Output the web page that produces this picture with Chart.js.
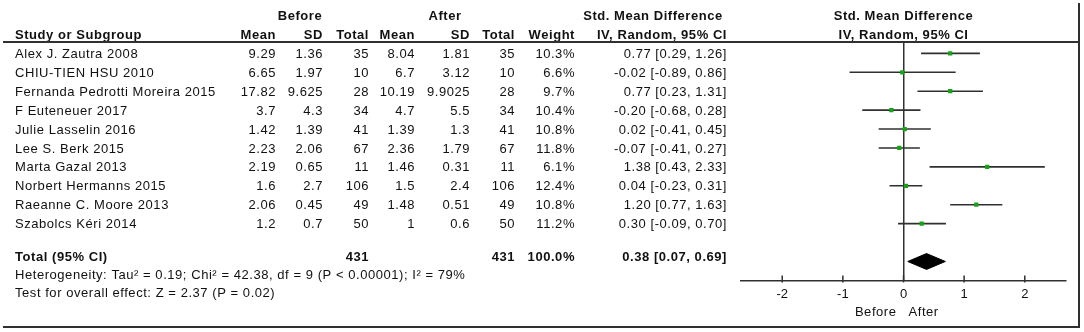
<!DOCTYPE html>
<html>
<head>
<meta charset="utf-8">
<script src="https://cdn.jsdelivr.net/npm/chart.js@4.4.0/dist/chart.umd.min.js"></script>
<style>
  html, body { margin: 0; padding: 0; background: #fff; }
</style>
</head>
<body>
<canvas id="forest" width="1084" height="332"></canvas>
<script>
// study rows
const studies = [
  "Alex J. Zautra 2008",
  "CHIU-TIEN HSU 2010",
  "Fernanda Pedrotti Moreira 2015",
  "F Euteneuer 2017",
  "Julie Lasselin 2016",
  "Lee S. Berk 2015",
  "Marta Gazal 2013",
  "Norbert Hermanns 2015",
  "Raeanne C. Moore 2013",
  "Szabolcs Kéri 2014"
];
const beforeMean = [9.29, 6.65, 17.82, 3.7, 1.42, 2.23, 2.19, 1.6, 2.06, 1.2];
const beforeSD = [1.36, 1.97, 9.625, 4.3, 1.39, 2.06, 0.65, 2.7, 0.45, 0.7];
const beforeN = [35, 10, 28, 34, 41, 67, 11, 106, 49, 50];
const afterMean = [8.04, 6.7, 10.19, 4.7, 1.39, 2.36, 1.46, 1.5, 1.48, 1];
const afterSD = [1.81, 3.12, 9.9025, 5.5, 1.3, 1.79, 0.31, 2.4, 0.51, 0.6];
const afterN = [35, 10, 28, 34, 41, 67, 11, 106, 49, 50];
const weights = [10.3, 6.6, 9.7, 10.4, 10.8, 11.8, 6.1, 12.4, 10.8, 11.2];
const smd = [0.77, -0.02, 0.77, -0.20, 0.02, -0.07, 1.38, 0.04, 1.20, 0.30];
const ciLo = [0.29, -0.89, 0.23, -0.68, -0.41, -0.41, 0.43, -0.23, 0.77, -0.09];
const ciHi = [1.26, 0.86, 1.31, 0.28, 0.45, 0.27, 2.33, 0.31, 1.63, 0.70];

// pooled result
const totalBefore = 431;
const totalAfter = 431;
const totalWeight = 100.0;
const totalEst = 0.38;
const totalLo = 0.07;
const totalHi = 0.69;
const heterogeneityText = "Heterogeneity: Tau\u00b2 = 0.19; Chi\u00b2 = 42.38, df = 9 (P < 0.00001); I\u00b2 = 79%";
const overallText = "Test for overall effect: Z = 2.37 (P = 0.02)";

const xTicks = [-2, -1, 0, 1, 2];
const favoursLeft = "Before";
const favoursRight = "After";

const totalRow = studies.length + 1; // blank row, then Total
const ink = "#111";
const lineCol = "#303030";
const green = "#14a514";

// right edge of each table column
const cols = { bMean: 276, bSD: 323, bN: 369, aMean: 415, aSD: 470, aN: 515, weight: 575, ci: 727 };

function fmtCI(e, l, h) {
  return e.toFixed(2) + " [" + l.toFixed(2) + ", " + h.toFixed(2) + "]";
}

const datasets = [];
// effect markers
datasets.push({
  type: "scatter",
  data: smd.map((v, i) => ({ x: v, y: i })),
  pointStyle: "rect",
  pointRadius: 3,
  pointHoverRadius: 3,
  backgroundColor: green,
  borderWidth: 0,
  order: 0
});
// confidence interval lines
for (let i = 0; i < studies.length; i++) {
  datasets.push({
    type: "scatter",
    data: [{ x: ciLo[i], y: i }, { x: ciHi[i], y: i }],
    showLine: true,
    borderColor: lineCol,
    borderWidth: 1.6,
    pointRadius: 0,
    order: 2
  });
}
// pooled diamond
const dh = 0.42;
datasets.push({
  type: "scatter",
  data: [
    { x: totalLo, y: totalRow },
    { x: totalEst, y: totalRow - dh },
    { x: totalHi, y: totalRow },
    { x: totalEst, y: totalRow + dh },
    { x: totalLo, y: totalRow }
  ],
  showLine: true,
  fill: "shape",
  backgroundColor: "#000",
  borderColor: "#000",
  borderWidth: 1,
  pointRadius: 0,
  order: 1
});

const tablePlugin = {
  id: "tableText",
  afterDraw(chart) {
    const ctx = chart.ctx;
    const xs = chart.scales.x;
    const ys = chart.scales.y;
    const area = chart.chartArea;
    ctx.save();
    ctx.fillStyle = ink;
    ctx.textBaseline = "middle";
    ctx.letterSpacing = "0.55px";

    const put = (txt, x, y, align, bold) => {
      ctx.font = (bold ? "bold " : "") + "13px Arial, 'Liberation Sans', sans-serif";
      ctx.textAlign = align;
      ctx.fillText(txt, x, y);
    };

    // headers
    put("Before", 300, 16, "center", true);
    put("After", 445, 16, "center", true);
    put("Std. Mean Difference", 653, 16, "center", true);
    put("Study or Subgroup", 15, 35, "left", true);
    put("Mean", cols.bMean, 35, "right", true);
    put("SD", cols.bSD, 35, "right", true);
    put("Total", cols.bN, 35, "right", true);
    put("Mean", cols.aMean, 35, "right", true);
    put("SD", cols.aSD, 35, "right", true);
    put("Total", cols.aN, 35, "right", true);
    put("Weight", cols.weight, 35, "right", true);
    put("IV, Random, 95% CI", cols.ci, 35, "right", true);
    const cx = xs.getPixelForValue(0);
    put("Std. Mean Difference", cx, 16, "center", true);
    put("IV, Random, 95% CI", cx, 35, "center", true);

    // study rows
    for (let i = 0; i < studies.length; i++) {
      const y = ys.getPixelForValue(i) + 1;
      put(studies[i], 15, y, "left", false);
      put(String(beforeMean[i]), cols.bMean, y, "right", false);
      put(String(beforeSD[i]), cols.bSD, y, "right", false);
      put(String(beforeN[i]), cols.bN, y, "right", false);
      put(String(afterMean[i]), cols.aMean, y, "right", false);
      put(String(afterSD[i]), cols.aSD, y, "right", false);
      put(String(afterN[i]), cols.aN, y, "right", false);
      put(weights[i].toFixed(1) + "%", cols.weight, y, "right", false);
      put(fmtCI(smd[i], ciLo[i], ciHi[i]), cols.ci, y, "right", false);
    }

    // totals and footnotes
    const ty = ys.getPixelForValue(totalRow) - 4;
    put("Total (95% CI)", 15, ty, "left", true);
    put(String(totalBefore), cols.bN, ty, "right", true);
    put(String(totalAfter), cols.aN, ty, "right", true);
    put(totalWeight.toFixed(1) + "%", cols.weight, ty, "right", true);
    put(fmtCI(totalEst, totalLo, totalHi), cols.ci, ty, "right", true);
    put(heterogeneityText, 15, ty + 18, "left", false);
    put(overallText, 15, ty + 36, "left", false);

    // favours labels under the axis
    put(favoursLeft, cx - 7, 312, "right", false);
    put(favoursRight, cx + 5, 312, "left", false);

    // tick marks crossing the axis line
    ctx.strokeStyle = lineCol;
    ctx.lineWidth = 1.5;
    xs.ticks.forEach(t => {
      const px = xs.getPixelForValue(t.value);
      ctx.beginPath();
      ctx.moveTo(px, area.bottom - 5);
      ctx.lineTo(px, area.bottom + 2);
      ctx.stroke();
    });

    // header rule and frame
    ctx.lineWidth = 2;
    ctx.beginPath();
    ctx.moveTo(3, 42);
    ctx.lineTo(1079, 42);
    ctx.moveTo(1079, 3);
    ctx.lineTo(1079, 327);
    ctx.lineTo(3, 327);
    ctx.stroke();
    ctx.restore();
  }
};

new Chart(document.getElementById("forest"), {
  type: "scatter",
  data: { datasets: datasets },
  options: {
    responsive: false,
    animation: false,
    layout: { padding: { left: 741, right: 18, top: 43, bottom: 24 } },
    plugins: { legend: { display: false }, tooltip: { enabled: false } },
    scales: {
      x: {
        type: "linear",
        min: -2.68,
        max: 2.68,
        afterBuildTicks: axis => { axis.ticks = xTicks.map(v => ({ value: v })); },
        grid: {
          drawTicks: false,
          lineWidth: 1.5,
          color: c => (c.tick && c.tick.value === 0 ? lineCol : "rgba(0,0,0,0)")
        },
        border: { display: true, color: lineCol, width: 1.5 },
        ticks: {
          color: ink,
          padding: 6,
          font: { family: "Arial, 'Liberation Sans', sans-serif", size: 13 }
        }
      },
      y: {
        type: "linear",
        display: false,
        reverse: true,
        min: -0.55,
        max: 12.0
      }
    }
  },
  plugins: [tablePlugin]
});
</script>
</body>
</html>
